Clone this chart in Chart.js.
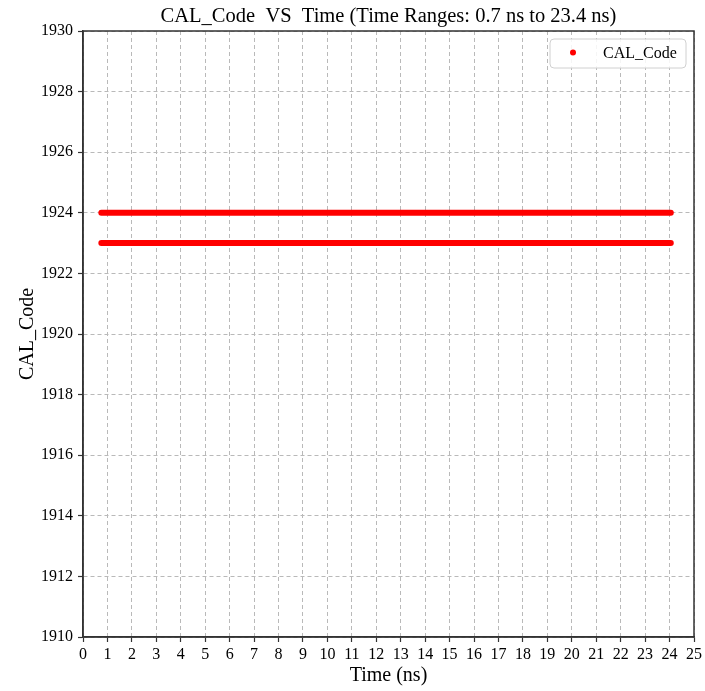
<!DOCTYPE html>
<html>
<head>
<meta charset="utf-8">
<script src="https://cdn.jsdelivr.net/npm/chart.js@4.4.1/dist/chart.umd.min.js"></script>
<style>
  html, body { margin: 0; padding: 0; background: #ffffff; }
  #wrap { width: 705px; height: 691px; position: relative; }
</style>
</head>
<body>
<div id="wrap"><canvas id="c" width="705" height="691"></canvas></div>
<script>
// ---- data ----
const chartTitle = 'CAL_Code  VS  Time (Time Ranges: 0.7 ns to 23.4 ns)';
const seriesLabel = 'CAL_Code';
const xTitle = 'Time (ns)';
const yTitle = 'CAL_Code';
// the two code levels, each observed continuously over the time span
const upperTimes = [0.75, 24.05];
const upperCodes = [1924, 1924];
const lowerTimes = [0.75, 24.05];
const lowerCodes = [1923, 1923];
const xMin = 0, xMax = 25, xStep = 1;
const yMin = 1910, yMax = 1930, yStep = 2;

const FONT = "'Liberation Serif', 'Times New Roman', serif";
const RED = '#ff0000';
const GRID = '#b9b9b9';
const AXIS = '#333333';

function toPoints(xs, ys) { return xs.map((x, i) => ({ x: x, y: ys[i] })); }

const framePlugin = {
  id: 'frame',
  afterDraw(chart) {
    const { ctx, chartArea: a } = chart;
    ctx.save();
    ctx.setLineDash([]);
    // box around plot
    ctx.strokeStyle = AXIS;
    ctx.lineWidth = 1.5;
    ctx.strokeRect(a.left, a.top, a.right - a.left, a.bottom - a.top);
    // title
    ctx.fillStyle = '#000';
    ctx.font = '20.5px ' + FONT;
    ctx.textAlign = 'center';
    ctx.textBaseline = 'middle';
    ctx.fillText(chartTitle, (a.left + a.right) / 2, 17);
    // legend
    const lx = 550, ly = 39, lw = 136, lh = 29, r = 4;
    ctx.beginPath();
    ctx.moveTo(lx + r, ly);
    ctx.lineTo(lx + lw - r, ly);
    ctx.quadraticCurveTo(lx + lw, ly, lx + lw, ly + r);
    ctx.lineTo(lx + lw, ly + lh - r);
    ctx.quadraticCurveTo(lx + lw, ly + lh, lx + lw - r, ly + lh);
    ctx.lineTo(lx + r, ly + lh);
    ctx.quadraticCurveTo(lx, ly + lh, lx, ly + lh - r);
    ctx.lineTo(lx, ly + r);
    ctx.quadraticCurveTo(lx, ly, lx + r, ly);
    ctx.closePath();
    ctx.fillStyle = 'rgba(255,255,255,0.85)';
    ctx.fill();
    ctx.strokeStyle = '#d0d0d0';
    ctx.lineWidth = 1;
    ctx.stroke();
    ctx.beginPath();
    ctx.arc(573, 52.5, 3, 0, Math.PI * 2);
    ctx.fillStyle = RED;
    ctx.fill();
    ctx.fillStyle = '#000';
    ctx.font = '16px ' + FONT;
    ctx.textAlign = 'left';
    ctx.textBaseline = 'middle';
    ctx.fillText(seriesLabel, 603, 53.5);
    ctx.restore();
  }
};

const lineStyle = {
  showLine: true,
  borderColor: RED,
  backgroundColor: RED,
  borderWidth: 6,
  borderCapStyle: 'round',
  pointRadius: 0,
  pointHoverRadius: 0,
  fill: false,
  tension: 0
};

new Chart(document.getElementById('c'), {
  type: 'scatter',
  data: {
    datasets: [
      Object.assign({ label: seriesLabel, data: toPoints(upperTimes, upperCodes) }, lineStyle),
      Object.assign({ label: seriesLabel, data: toPoints(lowerTimes, lowerCodes) }, lineStyle)
    ]
  },
  options: {
    responsive: false,
    animation: false,
    layout: { padding: { top: 31, right: 11, bottom: 0, left: 0 } },
    plugins: {
      legend: { display: false },
      title: { display: false },
      tooltip: { enabled: false }
    },
    scales: {
      x: {
        type: 'linear',
        min: xMin, max: xMax,
        afterFit(scale) { scale.height = 54; },
        ticks: {
          stepSize: xStep, autoSkip: false, maxRotation: 0, minRotation: 0,
          color: '#000', padding: 3,
          font: { family: FONT, size: 16 },
          callback: (v) => String(v)
        },
        grid: {
          color: GRID, lineWidth: 1,
          drawTicks: true, tickLength: 5, tickColor: AXIS, tickWidth: 1.2, tickBorderDash: []
        },
        border: { display: true, color: AXIS, width: 1.5, dash: [4, 3] },
        title: {
          display: true, text: xTitle, color: '#000',
          font: { family: FONT, size: 20 }, padding: { top: 0, bottom: 3 }
        }
      },
      y: {
        type: 'linear',
        min: yMin, max: yMax,
        afterFit(scale) { scale.width = 83; },
        ticks: {
          stepSize: yStep, color: '#000', padding: 5,
          font: { family: FONT, size: 16 },
          callback: (v) => String(v)
        },
        grid: {
          color: GRID, lineWidth: 1,
          drawTicks: true, tickLength: 5, tickColor: AXIS, tickWidth: 1.2, tickBorderDash: []
        },
        border: { display: true, color: AXIS, width: 1.5, dash: [4, 3] },
        title: {
          display: true, text: yTitle, color: '#000',
          font: { family: FONT, size: 20 }, padding: { top: 16, bottom: 0 }
        }
      }
    }
  },
  plugins: [framePlugin]
});
</script>
</body>
</html>
